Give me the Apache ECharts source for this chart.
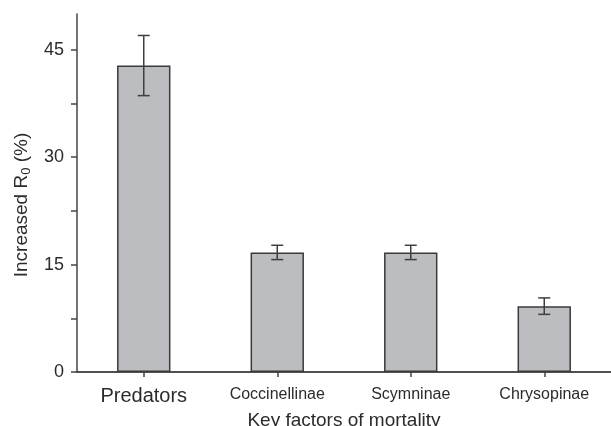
<!DOCTYPE html>
<html>
<head>
<meta charset="utf-8">
<script src="https://cdn.jsdelivr.net/npm/echarts@6/dist/echarts.min.js"></script>
<style>
  html, body { margin: 0; padding: 0; background: #fff; }
  #chart { width: 611px; height: 426px; }
</style>
</head>
<body>
<div id="chart"></div>
<script>
// Mortality factors and their increase in net reproductive rate
const categories = ['Predators', 'Coccinellinae', 'Scymninae', 'Chrysopinae'];
const meanValues = [42.8, 16.7, 16.7, 9.2];
const errorValues = [4.2, 1.0, 1.0, 1.15];
const yLabelValues = [0, 15, 30, 45];
const yTickValues = [0, 7.5, 15, 22.5, 30, 37.5, 45];

const FONT = '"Liberation Sans", Arial, sans-serif';
const INK = '#2b2b2b';
const LINE = '#454545';

const errorData = categories.map((c, i) => [i, meanValues[i] - errorValues[i], meanValues[i] + errorValues[i]]);

const chart = echarts.init(document.getElementById('chart'), null, { renderer: 'canvas' });

const gridBox = { left: 77, right: 0, top: 14, bottom: 54, containLabel: false, outerBoundsMode: 'none' };

chart.setOption({
  animation: false,
  backgroundColor: '#ffffff',
  grid: [Object.assign({}, gridBox), Object.assign({}, gridBox)],
  xAxis: [
    {
      type: 'category',
      gridIndex: 0,
      data: categories,
      boundaryGap: true,
      axisLine: { show: true, lineStyle: { color: LINE, width: 1.5 } },
      axisTick: { show: true, alignWithLabel: true, length: 5, lineStyle: { color: LINE, width: 1.5 } },
      axisLabel: {
        interval: 0,
        hideOverlap: false,
        margin: 12,
        fontFamily: FONT,
        color: INK,
        fontSize: 16,
        formatter: v => v === 'Predators' ? '{big|' + v + '}' : '{n|' + v + '}',
        rich: {
          big: { fontSize: 20, fontFamily: FONT, color: INK, padding: [2, 0, 0, 0] },
          n: { fontSize: 16, fontFamily: FONT, color: INK, padding: [3, 0, 0, 0] }
        }
      },
      name: 'Key factors of mortality',
      nameLocation: 'middle',
      nameGap: 34,
      nameTextStyle: { fontFamily: FONT, fontSize: 19, color: INK }
    },
    {
      type: 'value',
      gridIndex: 1,
      min: 0,
      max: 1,
      axisLine: { show: true, lineStyle: { color: LINE, width: 1.5 } },
      axisTick: { show: false },
      axisLabel: { show: false },
      splitLine: { show: false }
    }
  ],
  yAxis: [
    {
      type: 'value',
      gridIndex: 0,
      min: 0,
      max: 50,
      interval: 7.5,
      axisLine: { show: true, lineStyle: { color: LINE, width: 1.5 } },
      axisTick: { show: true, length: 6, customValues: yTickValues, lineStyle: { color: LINE, width: 1.5 } },
      axisLabel: {
        customValues: yLabelValues,
        margin: 13,
        fontFamily: FONT,
        fontSize: 18,
        color: INK
      },
      splitLine: { show: false },
      name: 'Increased R{sub|0} (%)',
      nameLocation: 'middle',
      nameGap: 44,
      nameTextStyle: {
        fontFamily: FONT,
        fontSize: 19,
        color: INK,
        padding: [0, 24, 0, 0],
        rich: {
          sub: { fontSize: 13, fontFamily: FONT, color: INK, verticalAlign: 'bottom', padding: [9, 0, 0, 0] }
        }
      }
    },
    {
      type: 'value',
      gridIndex: 1,
      min: 0,
      max: 1,
      show: false
    }
  ],
  series: [
    {
      type: 'bar',
      xAxisIndex: 0,
      yAxisIndex: 0,
      data: meanValues,
      barWidth: '40%',
      itemStyle: { color: '#bcbdc0', borderColor: '#3a3a3a', borderWidth: 1.5 }
    },
    {
      type: 'custom',
      xAxisIndex: 0,
      yAxisIndex: 0,
      data: errorData,
      z: 5,
      renderItem: function (params, api) {
        const x = api.value(0);
        const lo = api.coord([x, api.value(1)]);
        const hi = api.coord([x, api.value(2)]);
        const half = 6;
        const style = { stroke: '#3f3f3f', lineWidth: 1.5 };
        return {
          type: 'group',
          children: [
            { type: 'line', shape: { x1: hi[0], y1: hi[1], x2: lo[0], y2: lo[1] }, style: style },
            { type: 'line', shape: { x1: hi[0] - half, y1: hi[1], x2: hi[0] + half, y2: hi[1] }, style: style },
            { type: 'line', shape: { x1: lo[0] - half, y1: lo[1], x2: lo[0] + half, y2: lo[1] }, style: style }
          ]
        };
      }
    }
  ]
});
</script>
</body>
</html>
